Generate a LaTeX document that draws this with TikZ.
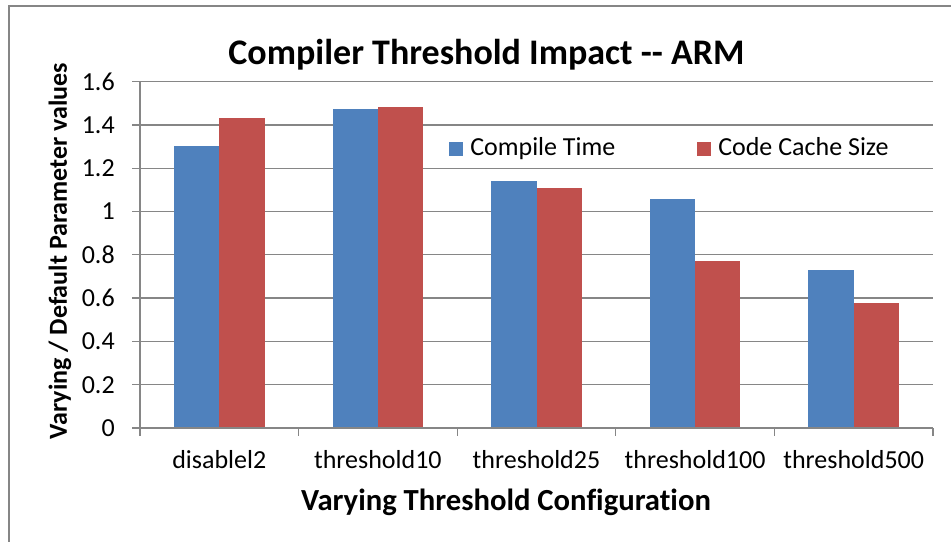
\documentclass[tikz,border=0pt]{standalone}
\usepackage{fontspec}
\setmainfont{Carlito}[Ligatures={TeX,NoCommon}]
\definecolor{ctblue}{HTML}{4F81BD}
\definecolor{ccred}{HTML}{C0504D}
\definecolor{gridgray}{HTML}{868686}
\begin{document}
\begin{tikzpicture}[x=0.75pt, y=-0.75pt,
        lbl/.style={font=\fontsize{19.5}{20}\selectfont, inner sep=0pt},
        ttl/.style={font=\fontsize{23}{24}\selectfont\bfseries, inner sep=0pt},
        key/.style={inner sep=0pt, minimum size=10.5pt}]
    \useasboundingbox (0,0) rectangle (951,542);
    \draw[gridgray, line width=1.2pt] (9,542) -- (9,6) -- (951,6);

    \node[ttl, font=\fontsize{27}{28}\selectfont\bfseries, anchor=base] (title) at (486.5,65) {Compiler Threshold Impact -{}- ARM};

    \begin{scope}[shift={(140,428)}, x=118.95pt, y=162.375pt]
        \foreach \y in {0.2,0.4,...,1.6}
            \draw[gridgray, line width=1pt] (0,\y) -- (5,\y);

        \foreach \i/\b/\r in {0/1.302/1.433, 1/1.472/1.481, 2/1.142/1.107, 3/1.058/0.771, 4/0.728/0.577} {
            \fill[ctblue] (\i+0.2143,0) rectangle (\i+0.5,\b);
            \fill[ccred] (\i+0.5,0) rectangle (\i+0.7857,\r);
        }

        \draw[gridgray, line width=1pt] (0,1.6) -- (0,0) -- (5,0);
        \foreach \y in {0,0.2,...,1.6}
            \draw[gridgray, line width=1pt] (0,\y) -- ++(-6pt,0pt);
        \foreach \i in {0,...,5}
            \draw[gridgray, line width=1pt] (\i,0) -- ++(0pt,-6pt);

        \foreach \y/\t [count=\k] in {0/0, 0.2/0.2, 0.4/0.4, 0.6/0.6, 0.8/0.8, 1/1, 1.2/1.2, 1.4/1.4, 1.6/1.6}
            \node[lbl, anchor=east] (ytk\k) at ([xshift=-18.75pt]0,\y) {\t};

        \foreach \c [count=\i from 0] in {disablel2, threshold10, threshold25, threshold100, threshold500}
            \node[lbl, anchor=base] (cat\i) at ([yshift=-30pt]\i+0.5,0) {\c};
    \end{scope}

    % legend
    \node[key, fill=ctblue] (keyCT) at (456,149) {};
    \node[lbl, anchor=base west] (legCT) at (470,156) {Compile Time};
    \node[key, fill=ccred] (keyCC) at (704,149) {};
    \node[lbl, anchor=base west] (legCC) at (718,156) {Code Cache Size};

    \node[ttl, anchor=base] (xtitle) at (506,510) {Varying Threshold Configuration};
    \node[ttl, font=\fontsize{19.5}{20}\selectfont\bfseries, rotate=90] (ytitle) at (60,251) {Varying / Default Parameter values};
\end{tikzpicture}
\end{document}
